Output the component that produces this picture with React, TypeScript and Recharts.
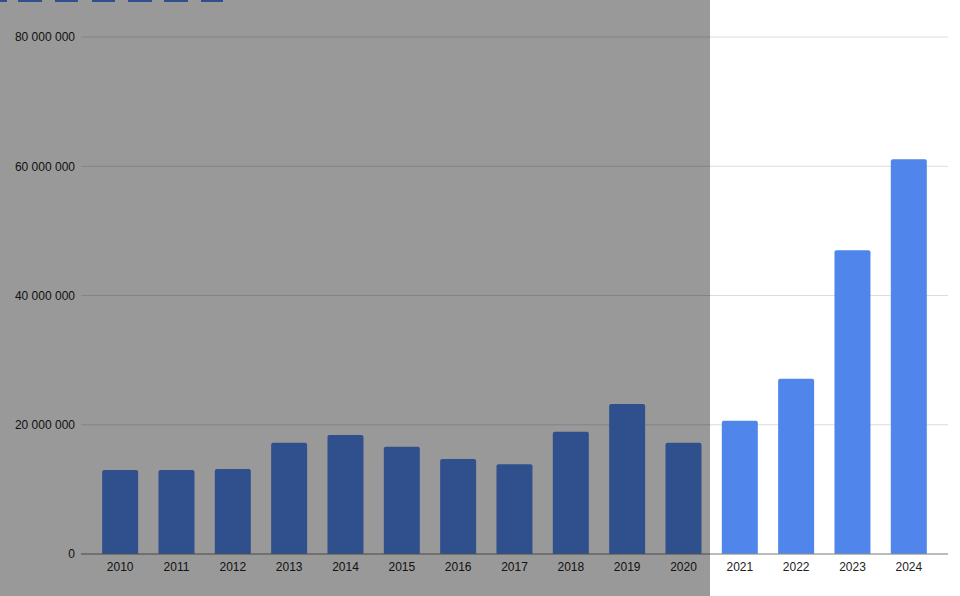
import { BarChart, Bar, XAxis, YAxis, CartesianGrid, Cell } from "recharts";

const years = ["2010", "2011", "2012", "2013", "2014", "2015", "2016", "2017", "2018", "2019", "2020", "2021", "2022", "2023", "2024"];
const values = [
  13000000, 13000000, 13150000, 17200000, 18400000, 16600000, 14700000, 13900000,
  18900000, 23200000, 17200000, 20600000, 27100000, 47000000, 61100000,
];
const yTicks = [0, 20000000, 40000000, 60000000, 80000000];

// cut-off bits of something above the chart, seen in the screenshot top edge
const topStrip = [
  [0, 7],
  [18, 42],
  [55, 78],
  [92, 115],
  [128, 152],
  [164, 188],
  [201, 223],
];

const data = years.map((year, i) => ({ year, value: values[i] }));

const fmt = (v: number) => String(v).replace(/\B(?=(\d{3})+(?!\d))/g, " ");

export default function App() {
  return (
    <div style={{ position: "relative", width: 960, height: 596, background: "#fff", overflow: "hidden", fontFamily: "'Liberation Sans', Arial, sans-serif" }}>
      <style>{`body{margin:0}`}</style>
      {topStrip.map(([a, b]) => (
        <div key={a} style={{ position: "absolute", top: 0, left: a, width: b - a, height: 2, background: "#4f86ec" }} />
      ))}
      <BarChart
        width={960}
        height={596}
        data={data}
        margin={{ top: 37, right: 12, left: 0, bottom: 12 }}
        barCategoryGap="18%"
      >
        <CartesianGrid horizontal vertical={false} stroke="#dcdcdc" />
        <XAxis
          dataKey="year"
          padding={{ left: 11, right: 11 }}
          axisLine={{ stroke: "#8a8a8a" }}
          tickLine={false}
          tickMargin={2}
          height={30}
          tick={{ fontSize: 12, fill: "#222" }}
        />
        <YAxis
          domain={[0, 80000000]}
          ticks={yTicks}
          width={81}
          axisLine={false}
          tickLine={false}
          tickMargin={0}
          tickFormatter={fmt}
          tick={{ fontSize: 12, fill: "#222" }}
        />
        <Bar dataKey="value" fill="#5086ec" radius={[2, 2, 0, 0]} isAnimationActive={false}>
          {data.map((d) => (
            <Cell key={d.year} fill="#5086ec" />
          ))}
        </Bar>
      </BarChart>
      <div style={{ position: "absolute", top: 0, left: 0, width: 710, height: 596, background: "rgba(0,0,0,0.4)" }} />
    </div>
  );
}
